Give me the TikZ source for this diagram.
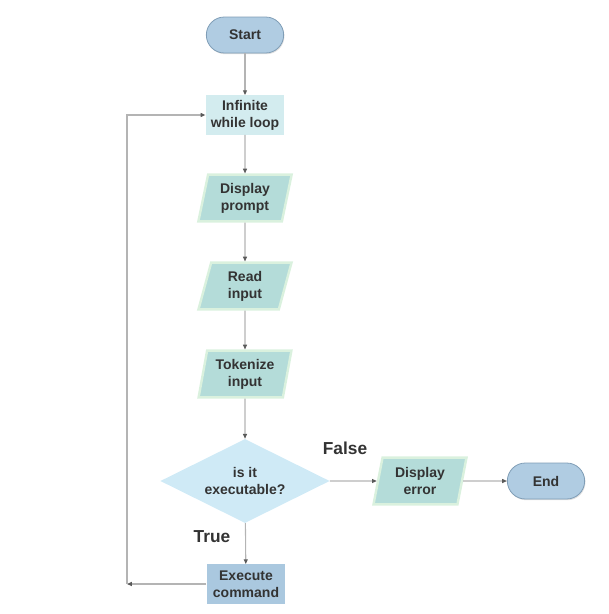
\documentclass[tikz,border=0pt]{standalone}
\usepackage{fontspec}
\setmainfont{Liberation Sans}
\usetikzlibrary{shapes.geometric,arrows.meta,shadows}

\definecolor{pillblue}{HTML}{B0CCE2}
\definecolor{pillrim}{HTML}{7F9DB6}
\definecolor{loopfill}{HTML}{D3ECEF}
\definecolor{iofill}{HTML}{B4DCD9}
\definecolor{ioglow}{HTML}{DAF1DE}
\definecolor{askfill}{HTML}{CFEAF6}
\definecolor{runfill}{HTML}{AAC8DF}
\definecolor{wiregray}{HTML}{B4B4B4}
\definecolor{tipgray}{HTML}{5A5A5A}
\definecolor{inkgray}{HTML}{333333}

\begin{document}
\begin{tikzpicture}[x=0.75pt,y=-0.75pt,
  font=\fontsize{10.5}{12.6}\selectfont\bfseries, text=inkgray,
  pill/.style={rectangle,rounded corners=13.5pt,draw=pillrim,fill=pillblue,line width=0.6pt,
    minimum width=58pt,minimum height=27pt,
    drop shadow={opacity=0.25,shadow xshift=0.6pt,shadow yshift=-0.9pt}},
  boxstep/.style={rectangle,minimum width=59pt,minimum height=29.5pt,inner sep=1pt,align=center},
  iostep/.style={trapezium,trapezium left angle=78,trapezium right angle=102,
    trapezium stretches=true,fill=iofill,draw=ioglow,line width=1.8pt,
    minimum width=70pt,minimum height=35pt,inner sep=1pt,align=center},
  askstep/.style={diamond,aspect=2,fill=askfill,minimum width=127pt,minimum height=63pt,
    inner sep=0pt,align=center},
  wire/.style={draw=wiregray,line width=0.8pt,-{Triangle[length=3.6pt,width=3pt,color=tipgray]}},
  verdict/.style={font=\fontsize{13}{15}\selectfont\bfseries}]

% Bounding box
\useasboundingbox (0,0) rectangle (609,614);

% Terminals
\node[pill] (start) at (245,35) {Start};
\node[pill] (stop) at (546,481) {End};

% Loop head and command
\node[boxstep,fill=loopfill] (loop) at (245,115) {Infinite\\while loop};
\node[boxstep,fill=runfill] (exec) at (246,584) {Execute\\command};

% In/out steps
\node[iostep] (prompt) at (245,198) {Display\\prompt};
\node[iostep] (read) at (245,286) {Read\\input};
\node[iostep] (token) at (245,374) {Tokenize\\input};
\node[iostep] (error) at (420,481) {Display\\error};

% Decision
\node[askstep] (check) at (245,481) {is it\\executable?};

% Branch labels
\node[verdict] (lblfalse) at (345,448) {False};
\node[verdict] (lbltrue) at (212,537) {True};

% Main flow
\draw[wire] (start) -- (loop);
\draw[wire] (loop) -- (prompt);
\draw[wire] (prompt) -- (read);
\draw[wire] (read) -- (token);
\draw[wire] (token) -- (check);
\draw[wire] (check) -- (exec);
\draw[wire] (check) -- (error);
\draw[wire] (error) -- (stop);

% Back to the loop
\coordinate (back) at (127,584);
\draw[wire] (exec) -- (back);
\draw[wire] (back) |- (loop);

\end{tikzpicture}
\end{document}
